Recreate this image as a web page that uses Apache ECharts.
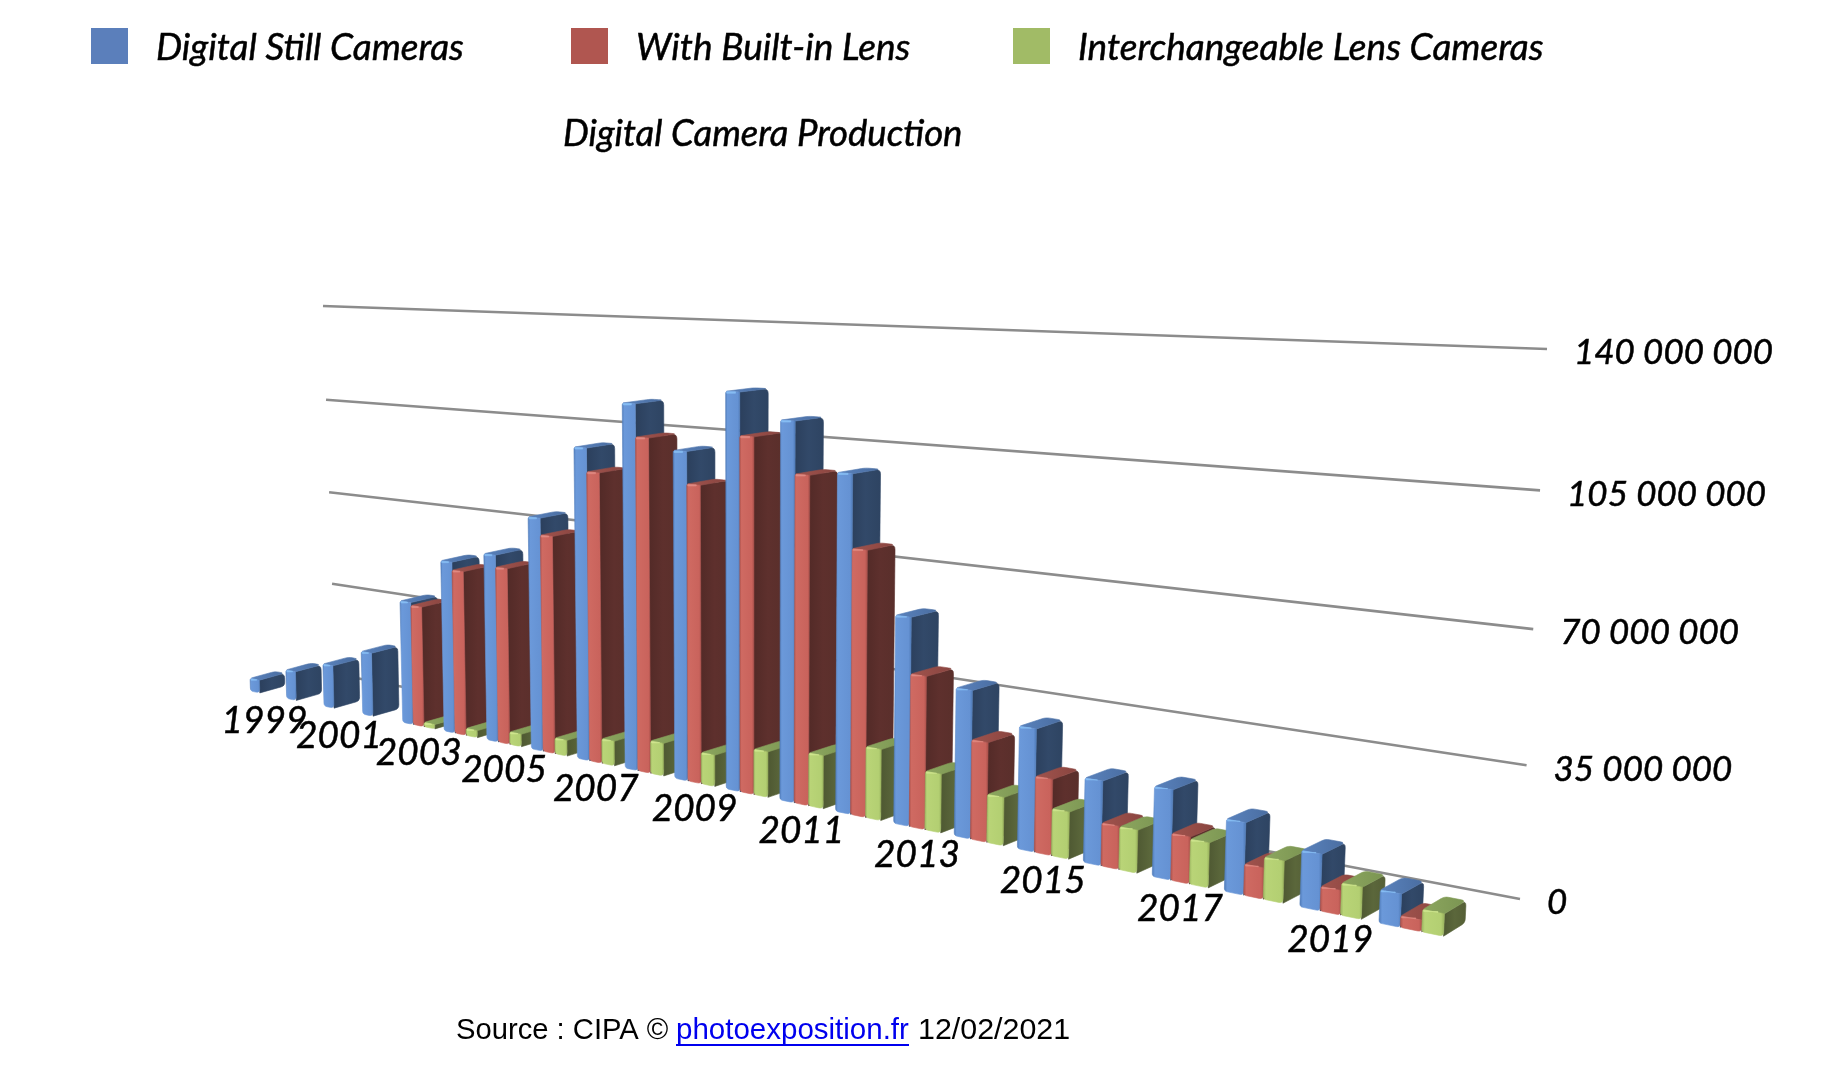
<!DOCTYPE html>
<html><head><meta charset="utf-8"><style>html,body{margin:0;padding:0;background:#fff}#c{width:1824px;height:1074px}</style>
<script src="https://cdn.jsdelivr.net/npm/echarts@6/dist/echarts.min.js"></script></head>
<body><div id="c"></div><script>
const years=[1999,2000,2001,2002,2003,2004,2005,2006,2007,2008,2009,2010,2011,2012,2013,2014,2015,2016,2017,2018,2019,2020];
const digitalStill=[4.8,10.6,15.4,22.5,42.7,58.7,63,77,101,116,102.5,121.5,114,100,60.7,42.4,34.5,23.3,24.3,19.1,14.6,8.4];
const builtIn=[null,null,null,null,41.7,56,59,71.5,93.5,105.7,92.6,108.5,98.5,78.4,44.4,28.4,21.3,11.8,12.6,8.2,6.3,2.9];
const interchangeable=[null,null,null,null,1.5,2.4,4.2,5.2,8,10.4,9.8,14,16,21,17,13.7,13.1,11.7,12,11,8.2,5.6];
const tickValues=[0,35,70,105,140];
const tickLabels=['0','35 000 000','70 000 000','105 000 000','140 000 000'];
const seriesNames=['Digital Still Cameras','With Built-in Lens','Interchangeable Lens Cameras'];
const titleText='Digital Camera Production';

const M=1e6, tMax=21, vMax=140*M, barW=0.26;
const font='Lato';
function plane(q){
  const [x0,y0]=q[0],[x1,y1]=q[1],[x2,y2]=q[2],[x3,y3]=q[3];
  const sx=x0-x1+x2-x3,sy=y0-y1+y2-y3,dx1=x1-x2,dx2=x3-x2,dy1=y1-y2,dy2=y3-y2,det=dx1*dy2-dx2*dy1;
  const g=(sx*dy2-dx2*sy)/det,h=(dx1*sy-sx*dy1)/det;
  const a=x1-x0+g*x1,b=x3-x0+h*x3,c=x0,d=y1-y0+g*y1,e=y3-y0+h*y3,f=y0;
  return (u,v)=>{const w=g*u+h*v+1;return [(a*u+b*v+c)/w,(d*u+e*v+f)/w];};
}
const frontPlane=plane([[250.5,691],[1379,923],[1402,352.5],[238.5,312]]);
const backPlane=plane([[275.5,684],[1401.5,910],[1425,351],[265.5,308.5]]);
const wallPlane=plane([[335,674],[1520,899],[1547,349],[323,306]]);
let cs=null;
function project(api,pl,t,val){
  const p=api.coord([t,val]);
  return pl((p[0]-cs.x)/cs.width,1-(p[1]-cs.y)/cs.height);
}
// soften the listed corners of a face: r[k] is the corner radius in pixels
function rounded(pts,r){
  const out=[],n=pts.length;
  for(let k=0;k<n;k++){
    const p=pts[k],a=pts[(k+n-1)%n],b=pts[(k+1)%n];
    if(!r[k]){out.push(p);continue;}
    const da=Math.hypot(a[0]-p[0],a[1]-p[1]),db=Math.hypot(b[0]-p[0],b[1]-p[1]);
    const ra=Math.min(r[k],da*.45)/da,rb=Math.min(r[k],db*.45)/db;
    const s=[p[0]+(a[0]-p[0])*ra,p[1]+(a[1]-p[1])*ra],e=[p[0]+(b[0]-p[0])*rb,p[1]+(b[1]-p[1])*rb];
    for(let q=0;q<=4;q++){const u=q/4,w=1-u;out.push([w*w*s[0]+2*w*u*p[0]+u*u*e[0],w*w*s[1]+2*w*u*p[1]+u*u*e[1]]);}
  }
  return out;
}
const palettes=[
 {legend:'#5B7FBB',front:['#4C78B6','#6B99DA','#6592D3','#4B76B2'],side:['#2B3F5C','#324969','#2E4462'],top:['#5A82BC','#4A6EA2'],hi:'#86BDF4'},
 {legend:'#B05650',front:['#A94F49','#CF6A62','#C9635C','#A44D47'],side:['#522A27','#5E302D','#5A2F2B'],top:['#A0534D','#8A4540'],hi:'#E08A82'},
 {legend:'#A1BB66',front:['#98B25E','#B9D477','#B3CF72','#94AD5A'],side:['#4E5832','#5B673B','#555F36'],top:['#8CA65F','#7B9552'],hi:'#CFE58F'}
];
const grad=c=>({type:'linear',x:0,y:0,x2:1,y2:0,colorStops:c.length===4?[{offset:0,color:c[0]},{offset:.14,color:c[1]},{offset:.84,color:c[2]},{offset:1,color:c[3]}]:c.length===3?[{offset:0,color:c[0]},{offset:.5,color:c[1]},{offset:1,color:c[2]}]:[{offset:0,color:c[0]},{offset:1,color:c[1]}]});
function barRender(sIdx){
  return function(params,api){
    cs=params.coordSys;
    const i=api.value(0),val=api.value(1),pal=palettes[sIdx];
    const t0=i+sIdx*barW,t1=t0+barW,z=10+(i*3+sIdx)*4;
    const f=(t,v)=>project(api,frontPlane,t,v),b=(t,v)=>project(api,backPlane,t,v);
    const poly=(pts,fill,dz)=>({type:'polygon',z2:z+dz,shape:{points:pts},style:{fill:fill,stroke:fill,lineWidth:0.6,lineJoin:'round'}});
    const fl0=f(t0,0),fr0=f(t1,0),fl1=f(t0,val),fr1=f(t1,val),bl1=b(t0,val),br1=b(t1,val),br0=b(t1,0);
    const hiH=2;
    return {type:'group',children:[
      poly(rounded([fr0,br0,br1,fr1],[0,4,5,0]),grad(pal.side),0),
      poly(rounded([fl1,fr1,br1,bl1],[2,0,5,4]),grad(pal.top),1),
      poly(rounded([fl0,fr0,fr1,fl1],[3,4,0,2]),grad(pal.front),2),
      poly([[fl1[0]+1,fl1[1]+.5],[fl1[0]+(fr1[0]-fl1[0])*.7,fl1[1]+(fr1[1]-fl1[1])*.7],[fl1[0]+(fr1[0]-fl1[0])*.7,fl1[1]+hiH],[fl1[0]+1,fl1[1]+hiH]],pal.hi,3)
    ]};
  };
}
const toData=a=>a.map((v,i)=>v==null?null:[i,v*M]).filter(Boolean);
const barSeries=[digitalStill,builtIn,interchangeable].map((arr,s)=>({
  type:'custom',name:seriesNames[s],coordinateSystem:'cartesian2d',clip:false,silent:true,animation:false,
  encode:{x:0,y:1},itemStyle:{color:palettes[s].legend},renderItem:barRender(s),data:toData(arr),z:3
}));
const gridSeries={type:'custom',coordinateSystem:'cartesian2d',clip:false,silent:true,animation:false,z:1,encode:{x:0,y:1},
  data:tickValues.map((v,k)=>[k,v*M]),
  renderItem(params,api){
    cs=params.coordSys;
    const v=api.value(1),a=project(api,wallPlane,0,v),c=project(api,wallPlane,tMax,v);
    return {type:'group',children:[
      {type:'line',shape:{x1:a[0],y1:a[1],x2:c[0],y2:c[1]},style:{stroke:'#8C8C8C',lineWidth:2.6}},
      {type:'text',style:{text:tickLabels[api.value(0)],x:c[0]+27,y:c[1]+4,fill:'#000',stroke:'#000',lineWidth:.5,font:'italic 35px '+font,textAlign:'left',textVerticalAlign:'middle'}}
    ]};
  }};
const yearSeries={type:'custom',coordinateSystem:'cartesian2d',clip:false,silent:true,animation:false,z:5,encode:{x:0,y:1},
  data:years.map((y,i)=>[i,0,y]).filter(d=>d[2]%2===1),
  renderItem(params,api){
    cs=params.coordSys;
    const p=project(api,frontPlane,api.value(0)+1.5*barW,0);
    return {type:'text',z2:2000,style:{text:String(api.value(2)),x:p[0],y:p[1]+27,fill:'#000',stroke:'#000',lineWidth:.5,font:'italic 37px '+font,textAlign:'center',textVerticalAlign:'middle'}};
  }};
const legendIcon='path://M0 0H37V36H0ZM0 41H0.01V41Z';
const legendAt=(s,left,top)=>({data:[{name:seriesNames[s],icon:legendIcon}],left,top,itemWidth:37,itemHeight:41,selectedMode:false,
  textStyle:{fontFamily:font,fontStyle:'italic',fontSize:37,color:'#000',padding:[0,0,0,23],textBorderColor:'#000',textBorderWidth:.5}});
const chart=echarts.init(document.getElementById('c'),null,{renderer:'canvas'});
chart.setOption({
  animation:false,backgroundColor:'#fff',
  title:{text:titleText,left:558,top:111,textStyle:{fontFamily:font,fontStyle:'italic',fontWeight:'normal',fontSize:36.5,color:'#000',textBorderColor:'#000',textBorderWidth:.5}},
  legend:[legendAt(0,86,23),legendAt(1,566,23),legendAt(2,1008,23)],
  grid:{left:0,top:0,right:0,bottom:0},
  xAxis:{type:'value',min:0,max:tMax,show:false},
  yAxis:{type:'value',min:0,max:vMax,interval:35*M,show:false},
  series:[gridSeries,...barSeries,yearSeries],
  graphic:[
    {type:'text',left:456,top:1016,style:{text:'Source : CIPA © ',font:'29.2px "Liberation Sans"',fill:'#000'}},
    {type:'text',left:676,top:1016,style:{text:'photoexposition.fr',font:'29.5px "Liberation Sans"',fill:'#0000EE'}},
    {type:'rect',left:676,top:1044,shape:{width:233,height:2},style:{fill:'#0000EE'}},
    {type:'text',left:918,top:1016,style:{text:'12/02/2021',font:'30.4px "Liberation Sans"',fill:'#000'}}
  ]
});
</script></body></html>
